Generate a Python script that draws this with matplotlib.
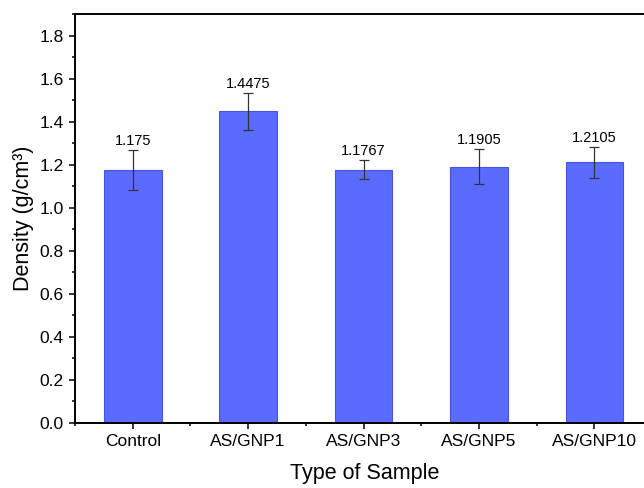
import matplotlib
matplotlib.use('Agg')
import matplotlib.pyplot as plt
import numpy as np
from matplotlib.ticker import MultipleLocator

plt.rcParams['font.family'] = ['Liberation Sans', 'DejaVu Sans']

samples = ['Control', 'AS/GNP1', 'AS/GNP3', 'AS/GNP5', 'AS/GNP10']
density = [1.175, 1.4475, 1.1767, 1.1905, 1.2105]
errors = [0.091, 0.087, 0.043, 0.081, 0.073]
labels = ['1.175', '1.4475', '1.1767', '1.1905', '1.2105']

fig = plt.figure(figsize=(6.44, 4.88), dpi=100)
# chart is cut at the right edge: axes end at the figure edge, no right spine
ax = fig.add_axes([0.1165, 0.1332, 0.8835, 0.8381])

x = np.arange(len(samples))
ax.bar(x, density, width=0.5, color='#5b6bff', edgecolor='#4756d8', linewidth=0.8,
       yerr=errors, capsize=3.5, error_kw=dict(ecolor='#333333', elinewidth=0.9, capthick=0.9))

for xi, d, e, lab in zip(x, density, errors, labels):
    ax.annotate(lab, (xi, d + e), xytext=(0, 1.5), textcoords='offset points',
                ha='center', va='bottom', fontsize=10.5)

ax.set_xlim(-0.5, 4.43)
ax.set_ylim(0, 1.9)
ax.set_xticks(x)
ax.set_xticklabels(samples, fontsize=12.5)
ax.xaxis.set_minor_locator(MultipleLocator(0.5))
ax.yaxis.set_major_locator(MultipleLocator(0.2))
ax.yaxis.set_minor_locator(MultipleLocator(0.1))
ax.tick_params(axis='y', labelsize=12.5)
ax.tick_params(which='major', direction='out', length=4.5, width=1.1)
ax.tick_params(which='minor', direction='out', length=2.5, width=1.1)
ax.set_yticklabels(['%.1f' % v for v in ax.get_yticks()])

for s in ax.spines.values():
    s.set_linewidth(1.4)
ax.spines['right'].set_visible(False)

ax.set_xlabel('Type of Sample', fontsize=15.5)
ax.xaxis.set_label_coords((365 - 75) / 569.0, -0.098)
ax.set_ylabel('Density (g/cm³)', fontsize=15.5)

fig.savefig('out.png', dpi=100)
